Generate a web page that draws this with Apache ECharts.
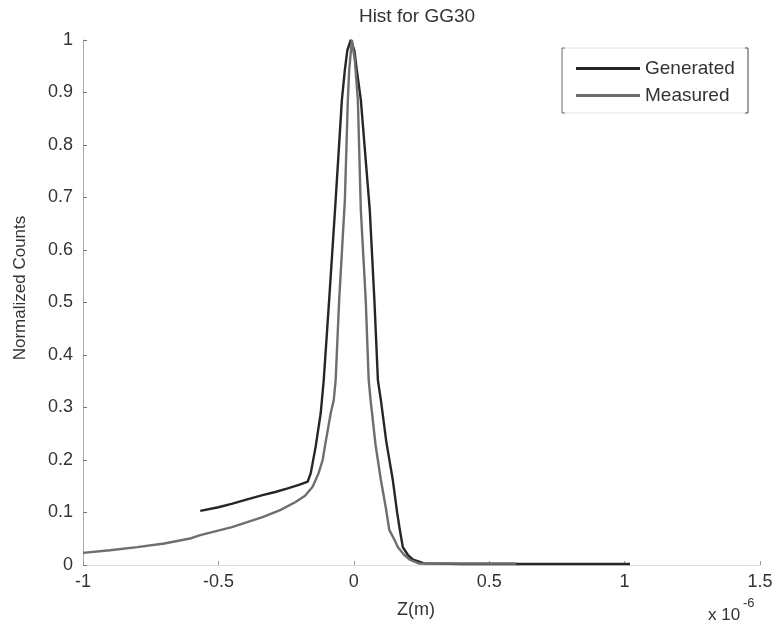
<!DOCTYPE html>
<html>
<head>
<meta charset="utf-8">
<script src="https://cdn.jsdelivr.net/npm/echarts@6/dist/echarts.min.js"></script>
<style>html,body{margin:0;padding:0;background:#fff;}#c{width:777px;height:630px;}</style>
</head>
<body>
<div id="c"></div>
<script>
// Values in units of 1e-6 m
const generatedX = [-0.567,-0.50,-0.448,-0.40,-0.337,-0.29,-0.244,-0.20,-0.170,-0.159,-0.141,-0.122,-0.111,-0.091,-0.067,-0.044,-0.033,-0.024,-0.011,0.002,0.011,0.026,0.059,0.076,0.089,0.100,0.120,0.144,0.160,0.170,0.181,0.200,0.219,0.260,0.40,0.60,0.80,1.02];
const generatedY = [0.103,0.110,0.117,0.124,0.133,0.139,0.146,0.153,0.159,0.175,0.225,0.290,0.352,0.505,0.695,0.886,0.943,0.980,1.000,0.980,0.943,0.886,0.676,0.505,0.352,0.314,0.235,0.162,0.100,0.067,0.034,0.019,0.010,0.003,0.002,0.002,0.002,0.002];
const measuredX = [-1.00,-0.90,-0.80,-0.70,-0.60,-0.567,-0.45,-0.337,-0.27,-0.215,-0.18,-0.152,-0.13,-0.115,-0.107,-0.085,-0.074,-0.067,-0.054,-0.033,-0.022,-0.017,-0.007,0.004,0.015,0.026,0.044,0.055,0.062,0.080,0.100,0.118,0.131,0.150,0.163,0.185,0.207,0.240,0.30,0.45,0.60];
const measuredY = [0.023,0.028,0.034,0.041,0.051,0.057,0.072,0.091,0.105,0.120,0.132,0.149,0.175,0.200,0.225,0.290,0.314,0.352,0.505,0.695,0.886,0.943,1.000,0.960,0.886,0.676,0.505,0.352,0.314,0.230,0.162,0.110,0.067,0.048,0.034,0.020,0.010,0.003,0.003,0.003,0.003];
const xTicks = [-1,-0.5,0,0.5,1,1.5];
const yTicks = [0,0.1,0.2,0.3,0.4,0.5,0.6,0.7,0.8,0.9,1];

const chart = echarts.init(document.getElementById('c'), null, {renderer:'canvas'});
const font = 'Liberation Sans, Arial, sans-serif';
const zip = (a,b) => a.map((v,i)=>[v,b[i]]);
chart.setOption({
  animation:false,
  backgroundColor:'#fff',
  title:{text:'Hist for GG30', left:412, top:2, textAlign:'center',
    textStyle:{fontFamily:font, fontSize:19, fontWeight:'normal', color:'#333'}},
  grid:{left:83, right:17, top:40, bottom:65},
  xAxis:{type:'value', min:-1, max:1.5, interval:0.5,
    axisLine:{show:true, onZero:false, lineStyle:{color:'#ddd', width:1}},
    axisTick:{show:true, inside:true, length:4, lineStyle:{color:'#999'}},
    splitLine:{show:false},
    axisLabel:{margin:8, fontFamily:font, fontSize:18, color:'#333',
      formatter:v=>xTicks.includes(+v.toFixed(2))?String(+v.toFixed(2)):''}},
  yAxis:{type:'value', min:0, max:1, interval:0.1,
    axisLine:{show:true, onZero:false, lineStyle:{color:'#aaa', width:1}},
    axisTick:{show:true, inside:true, length:4, lineStyle:{color:'#777'}},
    splitLine:{show:false},
    axisLabel:{margin:10, fontFamily:font, fontSize:18, color:'#333',
      formatter:v=>{const r=+v.toFixed(2); return yTicks.includes(r)?String(r):'';}}},
  legend:{show:true, orient:'vertical', left:571, top:54, itemGap:8,
    itemWidth:64, itemHeight:3, icon:'rect', itemStyle:{borderWidth:0},
    textStyle:{fontFamily:font, fontSize:19, color:'#333'},
    data:['Generated','Measured']},
  graphic:[
    {type:'rect', shape:{x:562, y:48, width:186, height:65}, style:{fill:'none', stroke:'#e2e2e2', lineWidth:1}},
    {type:'polyline', shape:{points:[[565,48],[562,48],[562,113],[565,113]]}, style:{stroke:'#777', fill:'none', lineWidth:1}},
    {type:'polyline', shape:{points:[[745,48],[748,48],[748,113],[745,113]]}, style:{stroke:'#555', fill:'none', lineWidth:1}},
    {type:'text', x:20, y:288, rotation:Math.PI/2, style:{text:'Normalized Counts', font:'17px '+font, fill:'#333', align:'center', verticalAlign:'middle'}},
    {type:'text', left:397, top:601, style:{text:'Z(m)', font:'18px '+font, fill:'#333'}},
    {type:'text', left:708, top:607, style:{text:'x 10', font:'17px '+font, fill:'#333'}},
    {type:'text', left:743, top:597, style:{text:'-6', font:'13px '+font, fill:'#333'}}
  ],
  series:[
    {name:'Generated', type:'line', showSymbol:false, data:zip(generatedX,generatedY),
      lineStyle:{color:'#262626', width:2.4}, itemStyle:{color:'#262626'}},
    {name:'Measured', type:'line', showSymbol:false, data:zip(measuredX,measuredY),
      lineStyle:{color:'#6e6e6e', width:2.4}, itemStyle:{color:'#6e6e6e'}}
  ]
});
</script>
</body>
</html>
